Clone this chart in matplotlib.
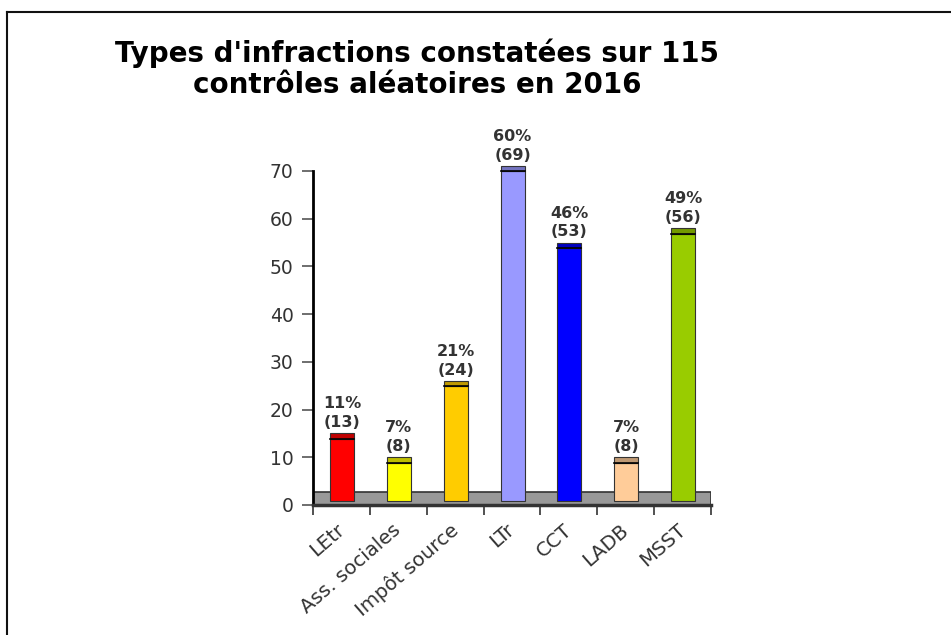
import matplotlib
matplotlib.use("Agg")
import matplotlib.pyplot as plt
from matplotlib.patches import Rectangle
from matplotlib.lines import Line2D
import matplotlib.transforms as mtransforms
import numpy as np

categories = ["LEtr", "Ass. sociales", "Impôt source", "LTr", "CCT", "LADB", "MSST"]
counts = [13, 8, 24, 69, 53, 8, 56]
percents = [11, 7, 21, 60, 46, 7, 49]
face_colors = ["#FF0000", "#FFFF00", "#FFCC00", "#9999FF", "#0000FF", "#FFCC99", "#99CC00"]
top_colors = ["#BF0000", "#BFBF00", "#BF9900", "#7373BF", "#0000BF", "#BF9973", "#739900"]
yticks = [0, 10, 20, 30, 40, 50, 60, 70]
title_lines = ["Types d'infractions constatées sur 115", "contrôles aléatoires en 2016"]

plt.rcParams['font.family'] = ['DejaVu Sans']

fig = plt.figure(figsize=(9.51, 6.35), dpi=100)
ax = fig.add_axes([313/951, 1-505/635, (711-313)/951, (505-171)/635])

n = len(categories)
x = np.arange(n)
bw = 0.42
base = 0.9
cap = 1.1
floor_h = 2.66

# floor
ax.add_patch(Rectangle((-0.5, 0), n, floor_h, facecolor="#999999",
                       edgecolor="#333333", linewidth=1.2, zorder=1))

for i in range(n):
    xc = x[i] + 0.01
    ax.add_patch(Rectangle((xc - bw/2, base), bw, counts[i], facecolor=face_colors[i],
                           edgecolor="#333333", linewidth=0.8, zorder=2, clip_on=False))
    ax.add_patch(Rectangle((xc - bw/2, base + counts[i]), bw, cap, facecolor=top_colors[i],
                           edgecolor="#333333", linewidth=0.8, zorder=2, clip_on=False))
    ax.plot([xc - bw/2, xc + bw/2], [base + counts[i]] * 2, color="black", lw=1.2,
            zorder=3, clip_on=False)
    ax.text(xc, base + counts[i] + cap + 0.7, f"{percents[i]}%\n({counts[i]})",
            ha="center", va="bottom", fontsize=11.5, fontweight="bold", color="#333333",
            linespacing=1.3, zorder=4)

ax.set_xlim(-0.5, n - 0.5)
ax.set_ylim(0, 70)
ax.set_yticks(yticks)
ax.set_yticklabels([str(t) for t in yticks], fontsize=13.5, color="#333333")
ax.tick_params(axis="y", direction="out", length=8, width=1.2, color="#555555", pad=6)

ax.set_xticks(x)
ax.set_xticklabels(categories, rotation=41, ha="right", rotation_mode="anchor",
                   fontsize=14.2, color="#333333")
ax.tick_params(axis="x", which="major", length=0, pad=11)
shift = mtransforms.ScaledTranslation(-6/100, 0, fig.dpi_scale_trans)
for lbl in ax.get_xticklabels():
    lbl.set_transform(lbl.get_transform() + shift)
ax.set_xticks(np.arange(n + 1) - 0.5, minor=True)
ax.tick_params(axis="x", which="minor", direction="out", length=7, width=1.2, color="#333333")

for s in ["top", "right"]:
    ax.spines[s].set_visible(False)
ax.spines["left"].set_linewidth(2)
ax.spines["left"].set_color("black")
ax.spines["bottom"].set_linewidth(2.5)
ax.spines["bottom"].set_color("#333333")
ax.patch.set_alpha(0)

fig.text(417/951, 1 - 62/635, title_lines[0], ha="center", va="baseline", fontsize=20,
         fontweight="bold", color="black")
fig.text(417/951, 1 - 93/635, title_lines[1], ha="center", va="baseline", fontsize=20,
         fontweight="bold", color="black")

# frame
fig.add_artist(Line2D([7/951, 7/951], [0, 1 - 12/635], transform=fig.transFigure,
                      color="#111111", lw=1.5))
fig.add_artist(Line2D([7/951, 1], [1 - 12/635, 1 - 12/635], transform=fig.transFigure,
                      color="#111111", lw=1.5))

fig.savefig("out.png", dpi=100)
